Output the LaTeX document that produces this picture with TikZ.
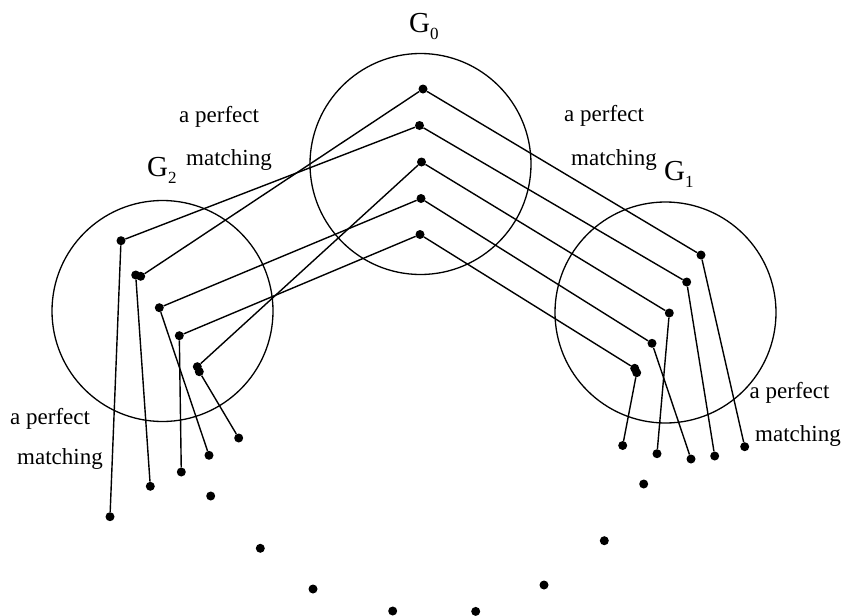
\documentclass[tikz,border=0pt]{standalone}
\usepackage{fontspec}
\setmainfont{Liberation Serif}
\tikzset{
  dot/.style={circle,fill=black,draw=none,minimum size=9pt,inner sep=0pt},
  group/.style={circle,draw=black,line width=1.3pt,minimum size=221pt,inner sep=0pt},
  edge/.style={line width=1.4pt,black},
  lbl/.style={anchor=base west,inner sep=0pt,font=\fontsize{23}{23}\selectfont},
  gname/.style={anchor=base west,inner sep=0pt}
}
\newcommand{\gsub}[1]{{\fontsize{29}{29}\selectfont G}\raisebox{-7pt}{\fontsize{17}{17}\selectfont #1}}
\begin{document}
\begin{tikzpicture}[x=1pt,y=-1pt]
\useasboundingbox (0,0) rectangle (844,616);
% group circles
\node[group] (G0c) at (420.5,164) {};
\node[group] (G2c) at (162.5,311) {};
\node[group] (G1c) at (665.5,312.5) {};
% labels
\node[gname] (G0l) at (409,32.3) {\gsub{0}};
\node[gname] (G2l) at (147,176.7) {\gsub{2}};
\node[gname] (G1l) at (664,180) {\gsub{1}};
\node[lbl] (pm1a) at (179,122.7) {a perfect};
\node[lbl] (pm1b) at (186,165) {matching};
\node[lbl] (pm2a) at (564,121.7) {a perfect};
\node[lbl] (pm2b) at (571,165) {matching};
\node[lbl] (pm3a) at (10,424.3) {a perfect};
\node[lbl] (pm3b) at (17,464.3) {matching};
\node[lbl] (pm4a) at (749.5,398.3) {a perfect};
\node[lbl] (pm4b) at (755,441.7) {matching};
% G0 vertices
\node[dot] (g01) at (423,89) {};
\node[dot] (g02) at (419.5,125.5) {};
\node[dot] (g03) at (421.5,162) {};
\node[dot] (g04) at (421,198.5) {};
\node[dot] (g05) at (420,234.5) {};
% G2 vertices
\node[dot] (l1) at (121,240.7) {};
\node[dot] (l2a) at (135.7,275) {};
\node[dot] (l2b) at (140.7,276.3) {};
\node[dot] (l3) at (159.3,307.7) {};
\node[dot] (l4) at (179.3,335.7) {};
\node[dot] (l5a) at (197.3,366.7) {};
\node[dot] (l5b) at (199.3,371.7) {};
% outside G2
\node[dot] (lo1) at (110,516.7) {};
\node[dot] (lo2) at (150.3,486.3) {};
\node[dot] (lo3) at (209,455.3) {};
\node[dot] (lo4) at (181.3,472) {};
\node[dot] (lo5) at (238.7,438) {};
\node[dot] (lx) at (210.7,496) {};
% G1 vertices
\node[dot] (r1) at (701,255) {};
\node[dot] (r2) at (686.7,282) {};
\node[dot] (r3) at (669.3,313) {};
\node[dot] (r4) at (652,343.3) {};
\node[dot] (r5a) at (634.7,368.3) {};
\node[dot] (r5b) at (636.7,372.7) {};
% outside G1
\node[dot] (ro1) at (744.7,446.7) {};
\node[dot] (ro2) at (714.7,456) {};
\node[dot] (ro3) at (657,453.7) {};
\node[dot] (ro4) at (691,459) {};
\node[dot] (ro5) at (622.7,445.5) {};
\node[dot] (rx) at (643.7,484) {};
% bottom arc of dots
\node[dot] (b1) at (260.3,548.3) {};
\node[dot] (b2) at (313,589) {};
\node[dot] (b3) at (392.7,611) {};
\node[dot] (b4) at (475.7,611.4) {};
\node[dot] (b5) at (544,585) {};
\node[dot] (b6) at (604.3,540.7) {};
% G2 -- G0 matching
\draw[edge] (l1) -- (g02);
\draw[edge] (l2b) -- (g01);
\draw[edge] (l3) -- (g04);
\draw[edge] (l4) -- (g05);
\draw[edge] (l5a) -- (g03);
% G0 -- G1 matching
\draw[edge] (g01) -- (r1);
\draw[edge] (g02) -- (r2);
\draw[edge] (g03) -- (r3);
\draw[edge] (g04) -- (r4);
\draw[edge] (g05) -- (r5a);
% G2 -- outside
\draw[edge] (l1) -- (lo1);
\draw[edge] (l2a) -- (lo2);
\draw[edge] (l3) -- (lo3);
\draw[edge] (l4) -- (lo4);
\draw[edge] (l5b) -- (lo5);
% G1 -- outside
\draw[edge] (r1) -- (ro1);
\draw[edge] (r2) -- (ro2);
\draw[edge] (r3) -- (ro3);
\draw[edge] (r4) -- (ro4);
\draw[edge] (r5b) -- (ro5);
\end{tikzpicture}
\end{document}
